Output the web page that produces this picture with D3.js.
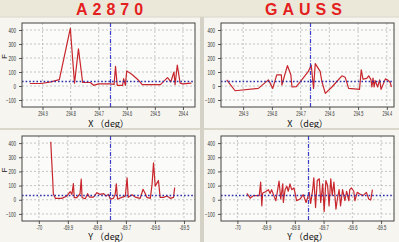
<!DOCTYPE html>
<html lang="en">
<head>
<meta charset="UTF-8">
<title>A2870 / GAUSS</title>
<script src="https://cdn.jsdelivr.net/npm/d3@7"></script>
<style>
  body { margin: 0; background: #f6f5f0; }
  svg { display: block; }
</style>
</head>
<body>
<script>

var w = 399;
var h = 242;

// titles of the two columns
var titles = ["A2870", "GAUSS"];

// tick values
var xTicksX = [294.9, 294.8, 294.7, 294.6, 294.5, 294.4];
var xTicksY = [-70, -69.9, -69.8, -69.7, -69.6, -69.5];
var fTicks = [-100, 0, 100, 200, 300, 400];

// A2870, F against X
var a2870X_x = [294.945, 294.905, 294.870, 294.840, 294.801, 294.786, 294.772, 294.757, 294.730, 294.718,
                294.700, 294.680, 294.660, 294.645, 294.640, 294.634, 294.615, 294.611, 294.605, 294.600,
                294.580, 294.560, 294.545, 294.520, 294.480, 294.455, 294.443, 294.432, 294.428, 294.420,
                294.410, 294.400, 294.370];
var a2870X_f = [18, 18, 30, 45, 412, 20, 265, 25, 25, 5,
                15, 15, 15, 12, 140, 5, 5, 52, 5, 108,
                80, 45, 10, 10, 10, 60, 30, 100, 10, 150,
                20, 15, 20];

// GAUSS, F against X
var gaussX_x = [294.957, 294.928, 294.847, 294.812, 294.797, 294.783, 294.767, 294.765, 294.746, 294.734,
                294.730, 294.715, 294.696, 294.673, 294.663, 294.655, 294.649, 294.632, 294.626, 294.614,
                294.591, 294.574, 294.556, 294.545, 294.533, 294.495, 294.489, 294.483, 294.470, 294.463,
                294.455, 294.452, 294.448, 294.444, 294.441, 294.432, 294.425, 294.420, 294.405, 294.394,
                294.388, 294.384];
var gaussX_f = [44, -34, -17, 44, -17, 80, 80, 7, 146, 80,
                -7, -5, 44, 104, 150, -17, 160, 104, 32, -53,
                -7, 32, 73, 63, -17, -24, 116, 49, 55, 73,
                44, -7, 56, -7, 39, -7, 44, -24, 51, 39,
                24, -7];

// A2870, F against Y
var a2870Y_y = [-69.959, -69.952, -69.950, -69.943, -69.921, -69.903, -69.892, -69.886, -69.881, -69.878,
                -69.869, -69.858, -69.854, -69.851, -69.840, -69.832, -69.826, -69.812, -69.800, -69.789,
                -69.777, -69.768, -69.760, -69.754, -69.743, -69.737, -69.733, -69.729, -69.714, -69.702,
                -69.696, -69.692, -69.679, -69.668, -69.651, -69.641, -69.633, -69.628, -69.616, -69.610,
                -69.605, -69.599, -69.588, -69.582, -69.570, -69.559, -69.547, -69.536, -69.532];
var a2870Y_f = [409, 131, 41, 10, 10, 27, 57, 38, 114, 15,
                15, 43, 145, 15, 7, 43, 19, 19, 50, 38,
                43, 26, 38, 5, 10, 38, 112, 5, 17, 26,
                155, 17, 36, 19, 10, 74, 43, 17, 10, 107,
                260, 96, 136, 17, 17, 26, 10, 17, 86];

// GAUSS, F against Y
var gaussY_y = [-69.967, -69.955, -69.944, -69.924, -69.919, -69.915, -69.912, -69.904, -69.892, -69.886,
                -69.881, -69.873, -69.866, -69.855, -69.849, -69.842, -69.840, -69.834, -69.828, -69.823,
                -69.817, -69.811, -69.803, -69.794, -69.782, -69.771, -69.761, -69.757, -69.750, -69.745,
                -69.738, -69.734, -69.728, -69.722, -69.715, -69.710, -69.703, -69.698, -69.692, -69.686,
                -69.681, -69.675, -69.670, -69.664, -69.657, -69.653, -69.646, -69.641, -69.634, -69.626,
                -69.620, -69.612, -69.609, -69.603, -69.595, -69.591, -69.583, -69.574, -69.563, -69.551,
                -69.543, -69.536, -69.530];
var gaussY_f = [45, 12, 29, 29, 124, -43, 48, 55, 71, 45,
                71, 29, -7, 131, 5, 112, -19, 71, 95, 60,
                112, 71, 83, -7, 5, 36, -19, 5, 52, -26,
                71, 155, -55, 136, 148, -19, 112, -83, 136, 100,
                -43, 148, 29, 124, -67, -7, 71, -43, 71, -7,
                60, -7, 71, 83, 60, -7, 52, 41, 29, 52,
                5, -2, 71];

// mean lines (F level, position of the vertical line)
var meanF = [37, 39, 36, 36];
var meanPos = [294.661, 294.667, -69.754, -69.756];

var panels = [
    {xs: a2870X_x, fs: a2870X_f, ticks: xTicksX, dom: [294.973, 294.357], x0: 22, x1: 195, y0: 23, y1: 107, axis: "X"},
    {xs: gaussX_x, fs: gaussX_f, ticks: xTicksX, dom: [294.977, 294.375], x0: 221, x1: 394, y0: 23, y1: 107, axis: "X"},
    {xs: a2870Y_y, fs: a2870Y_f, ticks: xTicksY, dom: [-70.058, -69.462], x0: 22, x1: 195, y0: 136, y1: 221, axis: "Y"},
    {xs: gaussY_y, fs: gaussY_f, ticks: xTicksY, dom: [-70.057, -69.455], x0: 221, x1: 394, y0: 136, y1: 221, axis: "Y"}
];

var svg = d3.select("body")
    .append("svg")
    .attr("width", w)
    .attr("height", h);

// backgrounds
svg.append("rect").attr("x", 0).attr("y", 0).attr("width", w).attr("height", h).attr("fill", "#f6f5f0");
svg.append("rect").attr("x", 0).attr("y", 0).attr("width", w).attr("height", 17).attr("fill", "#ebe8d9");

svg.selectAll("text.title")
    .data(titles)
    .enter()
    .append("text")
    .attr("class", "title")
    .attr("x", function(d, i) {return i == 0 ? 112 : 306;})
    .attr("y", 15)
    .attr("text-anchor", "middle")
    .attr("font-family", "Liberation Sans, Arial, sans-serif")
    .attr("font-weight", "bold")
    .attr("font-size", "16px")
    .attr("letter-spacing", "5px")
    .attr("fill", "#e41e1e")
    .text(function(d) {return d;});

panels.forEach(function(p, i) {
    var x = d3.scaleLinear().domain(p.dom).range([p.x0, p.x1]);
    var y = d3.scaleLinear().domain([-150, 450]).range([p.y1, p.y0]);
    var g = svg.append("g");

    g.append("rect")
        .attr("x", p.x0).attr("y", p.y0)
        .attr("width", p.x1 - p.x0).attr("height", p.y1 - p.y0)
        .attr("fill", "#fbfbf9");

    // grid
    g.selectAll("line.vg").data(p.ticks).enter().append("line")
        .attr("x1", function(d) {return x(d);}).attr("x2", function(d) {return x(d);})
        .attr("y1", p.y0).attr("y2", p.y1)
        .attr("stroke", "#b8b8b8").attr("stroke-width", 0.8).attr("stroke-dasharray", "2,2");
    g.selectAll("line.hg").data(fTicks).enter().append("line")
        .attr("x1", p.x0).attr("x2", p.x1)
        .attr("y1", function(d) {return y(d);}).attr("y2", function(d) {return y(d);})
        .attr("stroke", "#b8b8b8").attr("stroke-width", 0.8).attr("stroke-dasharray", "2,2");

    // axes
    var xa = d3.axisBottom(x).tickValues(p.ticks).tickSize(3).tickPadding(1).tickFormat(function(d) {return String(d);});
    var ya = d3.axisLeft(y).tickValues(fTicks).tickSize(3);
    var gx = g.append("g").attr("transform", "translate(0," + p.y1 + ")").call(xa);
    var gy = g.append("g").attr("transform", "translate(" + p.x0 + ",0)").call(ya);
    [gx, gy].forEach(function(a) {
        a.select(".domain").remove();
        a.selectAll("line").attr("stroke", "#555");
        a.selectAll("text")
            .attr("font-family", "Liberation Sans, Arial, sans-serif")
            .attr("font-size", "6.5px")
            .attr("fill", "#333")
            .attr("lengthAdjust", "spacingAndGlyphs");
    });
    gx.selectAll("text")
        .attr("textLength", function(d) {return String(d).length * 1.9;});
    gy.selectAll("text")
        .attr("textLength", function(d) {return String(d).length * 2.5;});

    // clip
    var cid = "clip" + i;
    svg.append("clipPath").attr("id", cid).append("rect")
        .attr("x", p.x0).attr("y", p.y0).attr("width", p.x1 - p.x0).attr("height", p.y1 - p.y0);

    var pts = p.xs.map(function(v, k) {return [v, p.fs[k]];});
    var line = d3.line().x(function(d) {return x(d[0]);}).y(function(d) {return y(d[1]);});

    g.append("path")
        .datum(pts)
        .attr("clip-path", "url(#" + cid + ")")
        .attr("d", line)
        .attr("fill", "none")
        .attr("stroke", "#c8262c")
        .attr("stroke-width", 1.2)
        .attr("stroke-linejoin", "round");

    var my = Math.round(y(meanF[i])) + 0.5;
    var mx = Math.round(x(meanPos[i])) + 0.5;
    g.append("line")
        .attr("x1", p.x0).attr("x2", p.x1)
        .attr("y1", my).attr("y2", my)
        .attr("stroke", "#2b2fa8").attr("stroke-width", 1.6).attr("stroke-dasharray", "1.6,2");
    g.append("line")
        .attr("x1", mx).attr("x2", mx)
        .attr("y1", p.y0).attr("y2", p.y1)
        .attr("stroke", "#3a3ec8").attr("stroke-width", 1.2).attr("stroke-dasharray", "4,1.5,1,1.5");

    g.append("rect")
        .attr("x", p.x0).attr("y", p.y0)
        .attr("width", p.x1 - p.x0).attr("height", p.y1 - p.y0)
        .attr("fill", "none").attr("stroke", "#444").attr("stroke-width", 1);

    // axis title
    g.append("text")
        .attr("x", (p.x0 + p.x1) / 2)
        .attr("y", p.axis == "X" ? 127 : 239.5)
        .attr("text-anchor", "middle")
        .attr("font-family", "Noto Sans CJK SC, sans-serif")
        .attr("font-size", "9px")
        .attr("fill", "#111")
        .text(p.axis + " （deg）");

    if (p.x0 < 100) {
        g.append("text")
            .attr("transform", "translate(7," + (p.y0 + p.y1 - 17) / 2 + ") rotate(-90)")
            .attr("text-anchor", "middle")
            .attr("font-family", "Liberation Sans, Arial, sans-serif")
            .attr("font-size", "8px")
            .attr("fill", "#111")
            .text("F");
    }
});

// separators
svg.append("rect").attr("x", 0).attr("y", 128).attr("width", w).attr("height", 2).attr("fill", "#d9d6cc");
svg.append("rect").attr("x", 200).attr("y", 17).attr("width", 4).attr("height", h - 17).attr("fill", "#d4d1c7");
svg.append("line").attr("x1", 0).attr("x2", w).attr("y1", 17).attr("y2", 17).attr("stroke", "#d9d6cc");

</script>
</body>
</html>
